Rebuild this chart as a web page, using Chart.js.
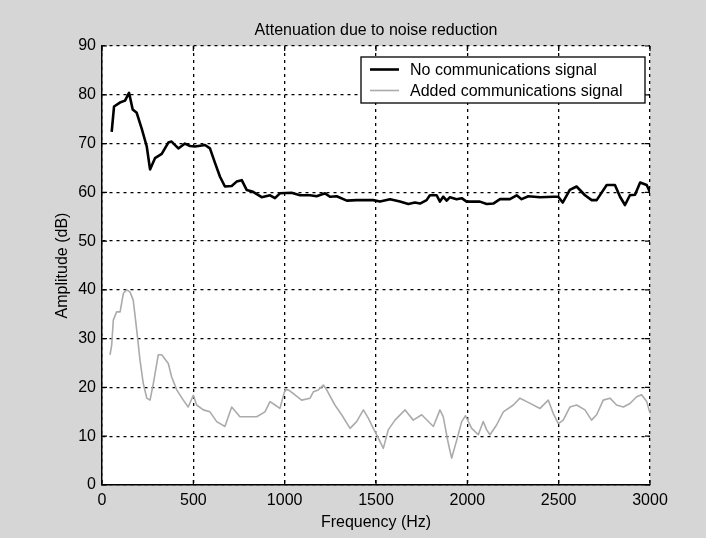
<!DOCTYPE html>
<html>
<head>
<meta charset="utf-8">
<script src="https://cdn.jsdelivr.net/npm/chart.js@4.4.1/dist/chart.umd.min.js"></script>
<style>
  html, body { margin: 0; padding: 0; background: #d6d6d6; }
  #chart { display: block; }
</style>
</head>
<body>
<canvas id="chart" width="706" height="538"></canvas>
<script>
const titleText = "Attenuation due to noise reduction";
const seriesNames = ["No communications signal", "Added communications signal"];

const xTicks = [0, 500, 1000, 1500, 2000, 2500, 3000];
const yTicks = [0, 10, 20, 30, 40, 50, 60, 70, 80, 90];

// black curve (no comms)
const quietFreq = [53, 66, 98, 126, 148, 168, 190, 217, 245, 263, 290, 327, 363, 381, 418, 454, 482, 509, 564, 591,
  619, 646, 673, 710, 737, 765, 792, 827, 874, 920, 947, 974, 1038, 1084, 1139, 1175, 1221, 1248, 1285, 1340,
  1394, 1484, 1522, 1577, 1631, 1677, 1713, 1741, 1777, 1795, 1832, 1850, 1868, 1887, 1905, 1941, 1969, 1996, 2069, 2106,
  2142, 2179, 2233, 2270, 2297, 2334, 2398, 2471, 2498, 2522, 2561, 2598, 2644, 2681, 2708, 2763, 2808, 2836, 2863, 2890,
  2918, 2946, 2982, 3000];
const quietAmp = [72.4, 77.6, 78.4, 78.8, 80.4, 77, 76.3, 73.1, 69.4, 64.7, 67, 67.9, 70.2, 70.4, 69, 70, 69.5, 69.4, 69.7, 69,
  66, 63.2, 61.2, 61.3, 62.2, 62.5, 60.5, 60.1, 59, 59.4, 58.8, 59.8, 59.9, 59.4, 59.4, 59.2, 59.8, 59.1, 59.2, 58.3,
  58.4, 58.4, 58.1, 58.6, 58.1, 57.6, 57.9, 57.7, 58.4, 59.4, 59.4, 58.1, 59.1, 58.3, 59, 58.6, 58.8, 58.1, 58.1, 57.6,
  57.7, 58.6, 58.6, 59.4, 58.6, 59.2, 59, 59.1, 59.1, 57.9, 60.5, 61.2, 59.4, 58.4, 58.4, 61.5, 61.5, 59.1, 57.4, 59.4,
  59.5, 62, 61.5, 60];

// grey curve (with comms)
const commsFreq = [44, 53, 62, 80, 99, 117, 135, 153, 171, 190, 208, 226, 245, 263, 281, 308, 327, 363, 381, 409,
  445, 472, 500, 518, 555, 591, 628, 673, 710, 755, 801, 847, 892, 920, 947, 974, 1002, 1020, 1056, 1093,
  1139, 1157, 1184, 1212, 1230, 1275, 1312, 1358, 1394, 1431, 1458, 1485, 1513, 1540, 1567, 1604, 1659, 1704, 1750, 1814,
  1850, 1868, 1896, 1914, 1942, 1969, 1990, 2024, 2060, 2087, 2106, 2124, 2160, 2197, 2252, 2288, 2325, 2398, 2443, 2470,
  2498, 2525, 2562, 2598, 2644, 2680, 2708, 2744, 2781, 2817, 2854, 2890, 2927, 2954, 2982, 3000];
const commsAmp = [26.7, 28.7, 33.8, 35.5, 35.5, 39.3, 40, 39.6, 37.9, 31.8, 25.6, 20.8, 17.8, 17.4, 20.8, 26.7, 26.7, 24.9, 22.2, 19.5,
  17.4, 16, 18.4, 16.4, 15.4, 15, 13, 12, 16, 14, 14, 14, 15, 17.1, 16.4, 15.7, 19.5, 19.5, 18.5, 17.4,
  17.8, 19.1, 19.5, 20.5, 19.5, 16.4, 14.4, 11.6, 13, 15.4, 13.7, 11.6, 9.6, 7.5, 11.3, 13.3, 15.4, 13.3, 14.4, 12,
  15.4, 14, 8.5, 5.5, 9.2, 13, 14.2, 11.6, 10.3, 13, 11.3, 10.3, 12.3, 15, 16.4, 17.8, 17.1, 15.7, 17.4, 14.7,
  12.6, 13.3, 16, 16.4, 15.4, 13.3, 14.4, 17.4, 17.8, 16.4, 16, 16.7, 18.1, 18.5, 17.1, 14.7];

const FONT = "'Liberation Sans', Arial, sans-serif";
const lineColors = ["#000000", "#ababab"];
const lineWidths = [2.6, 1.6];

const toPoints = (xs, ys) => xs.map((x, i) => ({ x: x, y: ys[i] }));

// white plot area on grey page, title centred over the axes
const plotBg = {
  id: "plotBg",
  beforeDraw(chart) {
    const { ctx, chartArea: a } = chart;
    ctx.save();
    ctx.fillStyle = "#ffffff";
    ctx.fillRect(a.left, a.top, a.right - a.left, a.bottom - a.top);
    ctx.fillStyle = "#000";
    ctx.font = "16px " + FONT;
    ctx.textAlign = "center";
    ctx.textBaseline = "middle";
    ctx.fillText(titleText, (a.left + a.right) / 2, 31);
    ctx.restore();
  }
};

// matlab style legend box in the top right corner + inward ticks
const boxLegend = {
  id: "boxLegend",
  afterDraw(chart) {
    const { ctx, chartArea: a, scales } = chart;
    ctx.save();
    ctx.strokeStyle = "#000";
    ctx.lineWidth = 1.2;
    ctx.beginPath();
    xTicks.forEach(v => {
      const px = scales.x.getPixelForValue(v);
      ctx.moveTo(px, a.bottom); ctx.lineTo(px, a.bottom - 5);
      ctx.moveTo(px, a.top); ctx.lineTo(px, a.top + 5);
    });
    yTicks.forEach(v => {
      const py = scales.y.getPixelForValue(v);
      ctx.moveTo(a.left, py); ctx.lineTo(a.left + 5, py);
      ctx.moveTo(a.right, py); ctx.lineTo(a.right - 5, py);
    });
    ctx.stroke();

    const w = 284, h = 46;
    const x0 = a.right - 5 - w, y0 = a.top + 11;
    ctx.fillStyle = "#fff";
    ctx.fillRect(x0, y0, w, h);
    ctx.lineWidth = 1.3;
    ctx.strokeRect(x0, y0, w, h);
    ctx.font = "16px " + FONT;
    ctx.textBaseline = "middle";
    seriesNames.forEach((name, i) => {
      const y = y0 + 12.5 + i * 21;
      ctx.strokeStyle = lineColors[i];
      ctx.lineWidth = lineWidths[i];
      ctx.beginPath();
      ctx.moveTo(x0 + 9, y);
      ctx.lineTo(x0 + 38, y);
      ctx.stroke();
      ctx.fillStyle = "#000";
      ctx.fillText(name, x0 + 49, y + 1);
    });
    ctx.restore();
  }
};

new Chart(document.getElementById("chart"), {
  type: "line",
  data: {
    datasets: [
      { label: seriesNames[0], data: toPoints(quietFreq, quietAmp), borderColor: lineColors[0], borderWidth: lineWidths[0] },
      { label: seriesNames[1], data: toPoints(commsFreq, commsAmp), borderColor: lineColors[1], borderWidth: lineWidths[1] }
    ]
  },
  options: {
    responsive: false,
    animation: false,
    events: [],
    parsing: false,
    elements: { point: { radius: 0 }, line: { tension: 0, borderJoinStyle: "round" } },
    layout: { padding: { left: 53, right: 56, top: 46, bottom: 0 } },
    plugins: {
      legend: { display: false },
      tooltip: { enabled: false },
      title: { display: false }
    },
    scales: {
      x: {
        type: "linear",
        min: 0, max: 3000,
        afterBuildTicks: s => { s.ticks = xTicks.map(v => ({ value: v })); },
        afterFit: s => { s.height = 53; },
        ticks: { color: "#000", font: { family: FONT, size: 16 }, padding: 6, maxRotation: 0, callback: v => String(v) },
        grid: { color: "#000", lineWidth: 1.3, drawTicks: false },
        border: { display: true, color: "#000", width: 1.5, dash: [3, 4] },
        title: { display: true, text: "Frequency (Hz)", color: "#000", font: { family: FONT, size: 16 }, padding: { top: 0, bottom: 6 } }
      },
      y: {
        type: "linear",
        min: 0, max: 90,
        afterBuildTicks: s => { s.ticks = yTicks.map(v => ({ value: v })); },
        afterFit: s => { s.width = 49; },
        ticks: { color: "#000", font: { family: FONT, size: 16 }, padding: 6, callback: v => String(v) },
        grid: { color: "#000", lineWidth: 1.3, drawTicks: false },
        border: { display: true, color: "#000", width: 1.5, dash: [3, 4] },
        title: { display: true, text: "Amplitude (dB)", color: "#000", font: { family: FONT, size: 16 }, padding: { top: 0, bottom: 0 } }
      }
    }
  },
  plugins: [plotBg, boxLegend]
});
</script>
</body>
</html>
